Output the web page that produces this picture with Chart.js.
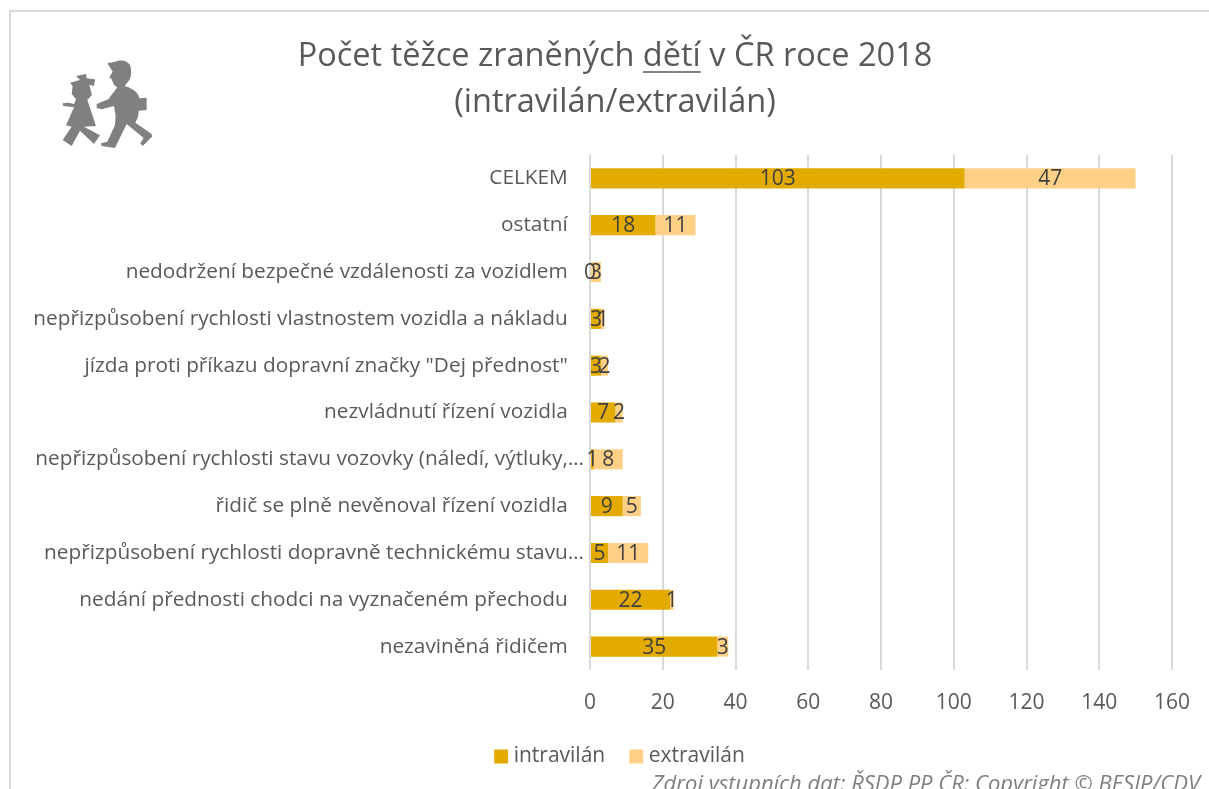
<!DOCTYPE html>
<html lang="cs">
<head>
<meta charset="utf-8">
<title>Počet těžce zraněných dětí</title>
<script src="https://cdn.jsdelivr.net/npm/chart.js@4"></script>
<style>
  html, body { margin: 0; height: 100%; overflow: hidden; background: #fff; }
  #frame { position: absolute; left: 9px; top: 10px; width: 1300px; height: 900px; border-left: 2px solid #d9d9d9; border-top: 2px solid #d9d9d9; }
  #logo { position: absolute; left: 0; top: 0; width: 300px; height: 200px; }
  #wrap { position: absolute; left: 11px; top: 12px; width: 1208px; height: 790px; }
</style>
</head>
<body>
<div id="frame"></div>
<svg id="logo" viewBox="0 0 900 600" fill="#808080">
  <path d="M322,190 L345,185 Q375,175 390,195 Q398,220 388,240 L374,258 Q402,265 415,285 L418,295 L440,293 L440,330 L416,332 L414,350 L406,368 L455,402 L456,410 L428,438 L421,430 L431,414 L380,372 L345,444 L305,438 L303,430 L322,425 L345,375 L347,348 L342,318 L305,328 L290,324 L290,312 L325,298 L352,262 L342,255 L335,238 L328,232 L338,215 Z"/>
  <path d="M228,228 L258,222 L260,235 L285,238 L282,258 L268,254 L276,285 L262,300 L288,378 L252,380 L300,406 L282,432 L240,392 L215,438 L188,420 L215,380 L198,376 L222,322 L190,318 L188,310 L205,308 L222,312 L228,298 L215,282 L218,258 L210,248 L240,240 Z"/>
</svg>
<div id="wrap"><canvas id="chart"></canvas></div>
<script>
const categories = [
  'CELKEM',
  'ostatní',
  'nedodržení bezpečné vzdálenosti za vozidlem',
  'nepřizpůsobení rychlosti vlastnostem vozidla a nákladu',
  'jízda proti příkazu dopravní značky "Dej přednost"',
  'nezvládnutí řízení vozidla',
  'nepřizpůsobení rychlosti stavu vozovky (náledí, výtluky,…',
  'řidič se plně nevěnoval řízení vozidla',
  'nepřizpůsobení rychlosti dopravně technickému stavu…',
  'nedání přednosti chodci na vyznačeném přechodu',
  'nezaviněná řidičem'
]
const intravilan = [103, 18, 0, 3, 3, 7, 1, 9, 5, 22, 35]
const extravilan = [47, 11, 3, 1, 2, 2, 8, 5, 11, 1, 3]
const titleLines = ['Počet těžce zraněných dětí v ČR roce 2018', '(intravilán/extravilán)']
const sourceNote = 'Zdroj vstupních dat: ŘSDP PP ČR: Copyright © BESIP/CDV'

const FONT = '"Open Sans", "Noto Sans", sans-serif'
const TEXT = '#595959'

// Value labels in the middle of each bar segment
const barLabels = {
  id: 'barLabels',
  afterDatasetsDraw(chart) {
    const ctx = chart.ctx
    ctx.save()
    ctx.font = `21px ${FONT}`
    ctx.fillStyle = '#404040'
    ctx.textAlign = 'center'
    ctx.textBaseline = 'middle'
    chart.data.datasets.forEach((ds, i) => {
      chart.getDatasetMeta(i).data.forEach((bar, j) => {
        ctx.fillText(ds.data[j], (bar.base + bar.x) / 2, bar.y + 1)
      })
    })
    ctx.restore()
  }
}

// Underlines one word of the title, writes the source note, nudges title and legend
const extras = {
  id: 'extras',
  afterLayout(chart) {
    chart.titleBlock.left += 23.5
    chart.titleBlock.right += 23.5
    chart.legend.left += 30.5
    chart.legend.right += 30.5
  },
  afterDraw(chart) {
    const ctx = chart.ctx
    const word = 'dětí'
    const line = titleLines[0]
    const box = chart.titleBlock
    ctx.save()
    ctx.font = `${box.options.font.size}px ${FONT}`
    const full = ctx.measureText(line).width
    const before = ctx.measureText(line.slice(0, line.indexOf(word))).width
    const x0 = (box.left + box.right) / 2 - full / 2 + before
    const y = box.top + box.options.padding.top + box.options.font.size * 1.2
    ctx.strokeStyle = TEXT
    ctx.lineWidth = 1.5
    ctx.beginPath()
    ctx.moveTo(x0, y)
    ctx.lineTo(x0 + ctx.measureText(word).width, y)
    ctx.stroke()

    ctx.font = `italic 22px ${FONT}`
    ctx.fillStyle = '#7f7f7f'
    ctx.textAlign = 'right'
    ctx.textBaseline = 'middle'
    ctx.fillText(sourceNote, 1189, 773)
    ctx.restore()
  }
}

new Chart(document.getElementById('chart'), {
  type: 'bar',
  data: {
    labels: categories,
    datasets: [
      { label: 'intravilán', data: intravilan, backgroundColor: '#e3aa00', barPercentage: 0.43, categoryPercentage: 1 },
      { label: 'extravilán', data: extravilan, backgroundColor: '#ffd085', barPercentage: 0.43, categoryPercentage: 1 }
    ]
  },
  plugins: [barLabels, extras],
  options: {
    indexAxis: 'y',
    responsive: true,
    maintainAspectRatio: false,
    animation: false,
    layout: { padding: { left: 0, right: 47, top: 0, bottom: 25 } },
    scales: {
      x: {
        stacked: true,
        min: 0,
        max: 160,
        afterFit: scale => { scale.height = 47 },
        grid: { color: '#d9d9d9', lineWidth: 2, drawTicks: false },
        border: { display: false },
        ticks: { stepSize: 20, color: TEXT, padding: 20, maxRotation: 0, font: { family: FONT, size: 21 } }
      },
      y: {
        stacked: true,
        afterFit: scale => { scale.width = 579 },
        grid: { display: false, drawTicks: false },
        border: { display: false },
        ticks: {
          autoSkip: false,
          color: TEXT,
          padding: 6,
          font: { family: FONT, size: 20.8 },
          // whole labels sit a little further from the axis than cut-off ones
          callback(value) {
            const label = this.getLabelForValue(value)
            return label.endsWith('…') ? label : label + '   '
          }
        }
      }
    },
    plugins: {
      legend: {
        position: 'bottom',
        labels: {
          color: TEXT,
          boxWidth: 4,
          boxHeight: 4,
          padding: 29,
          font: { family: FONT, size: 21 },
          // small box with a thick stroke keeps the text close to the swatch
          generateLabels: chart => Chart.defaults.plugins.legend.labels.generateLabels(chart).map(item => ({
            ...item,
            lineWidth: 10,
            strokeStyle: item.fillStyle
          }))
        }
      },
      title: {
        display: true,
        text: titleLines,
        color: TEXT,
        font: { family: FONT, size: 32.5, weight: 'normal', lineHeight: 1.43 },
        padding: { top: 21, bottom: 29 }
      },
      tooltip: { enabled: false }
    }
  }
})
</script>
</body>
</html>
